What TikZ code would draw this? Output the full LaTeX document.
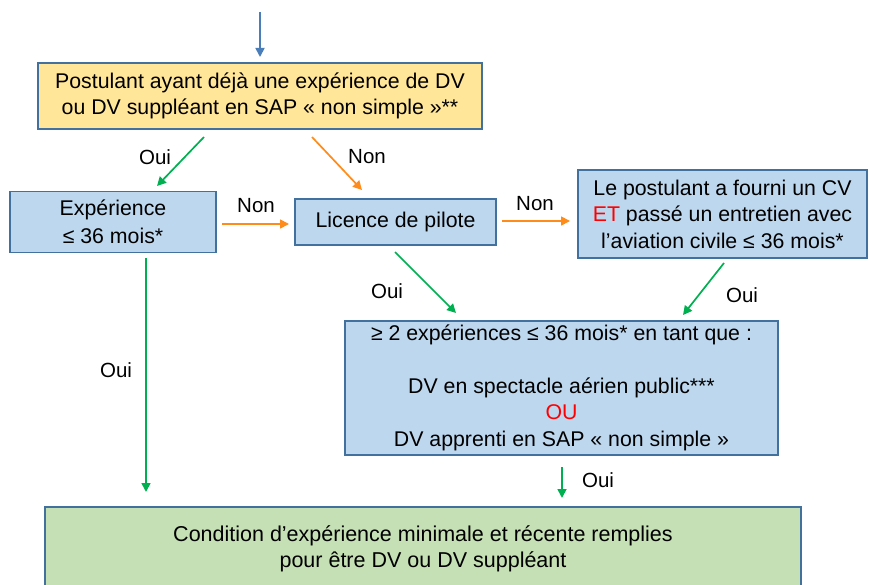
\documentclass[tikz,border=0pt]{standalone}
\usepackage{fontspec}
\setmainfont{Liberation Sans}
\usetikzlibrary{arrows.meta}
\definecolor{boxblue}{HTML}{BDD7EE}
\definecolor{boxyellow}{HTML}{FFE699}
\definecolor{boxgreen}{HTML}{C5E0B4}
\definecolor{edgeblue}{HTML}{41719C}
\definecolor{arrgreen}{HTML}{00B050}
\definecolor{arrorange}{HTML}{FF8C1A}
\definecolor{arrblue}{HTML}{4A7EBB}
\definecolor{redtxt}{HTML}{FF0000}
\begin{document}
\begin{tikzpicture}[x=1pt,y=-1pt,
  box/.style={draw=edgeblue, line width=1.6pt, inner sep=0pt, align=center,
    font=\fontsize{21.3}{26.5}\selectfont},
  lbl/.style={font=\fontsize{20.5}{22}\selectfont, inner sep=0pt},
  arr/.style={line width=1.7pt, -{Triangle[length=9pt,width=9pt]}},
  g/.style={arr, draw=arrgreen},
  o/.style={arr, draw=arrorange},
  b/.style={arr, draw=arrblue}]
\useasboundingbox (0,0) rectangle (869,585);
\node[box, fill=boxyellow, minimum width=444pt, minimum height=66pt] (top) at (260,96)
  {Postulant ayant déjà une expérience de DV\\ou DV suppléant en SAP « non simple »**};
\node[box, fill=boxblue, minimum width=206pt, minimum height=61pt,
  font=\fontsize{21.3}{28}\selectfont] (exp) at (113,222)
  {Expérience\\≤ 36 mois*};
\node[box, fill=boxblue, minimum width=201pt, minimum height=46pt] (lic) at (395.5,222)
  {Licence de pilote};
\node[box, fill=boxblue, minimum width=289pt, minimum height=88pt] (cv) at (722.5,214)
  {Le postulant a fourni un CV\\{\color{redtxt}ET} passé un entretien avec\\l’aviation civile ≤ 36 mois*};
\node[box, fill=boxblue, minimum width=433pt, minimum height=134pt] (two) at (561.5,388)
  {≥ 2 expériences ≤ 36 mois* en tant que :\\[26pt]DV en spectacle aérien public***\\{\color{redtxt}OU}\\DV apprenti en SAP « non simple »};
\node[box, fill=boxgreen, minimum width=756pt, minimum height=84pt,
  font=\fontsize{21.5}{26}\selectfont] (res) at (423,549)
  {Condition d’expérience minimale et récente remplies\\pour être DV ou DV suppléant};
% connector end points
\coordinate (s0) at (260,12); \coordinate (t0) at (260,57);
\coordinate (a1) at (204,137); \coordinate (b1) at (157,186);
\coordinate (a2) at (312,137); \coordinate (b2) at (362,190);
\coordinate (a3) at (222,224); \coordinate (b3) at (289,224);
\coordinate (a4) at (502,221); \coordinate (b4) at (570,221);
\coordinate (a5) at (395,252); \coordinate (b5) at (456,313);
\coordinate (a6) at (724,263); \coordinate (b6) at (683,315);
\coordinate (a7) at (146,258); \coordinate (b7) at (146,492);
\coordinate (a8) at (562,467); \coordinate (b8) at (562,498);
\draw[b] (s0) -- (t0);
\draw[g] (a1) -- (b1);
\draw[o] (a2) -- (b2);
\draw[o] (a3) -- (b3);
\draw[o] (a4) -- (b4);
\draw[g] (a5) -- (b5);
\draw[g] (a6) -- (b6);
\draw[g] (a7) -- (b7);
\draw[g] (a8) -- (b8);
\node[lbl] (l1) at (155,157) {Oui};
\node[lbl] (l2) at (367,157) {Non};
\node[lbl] (l3) at (256,206) {Non};
\node[lbl] (l4) at (535,204) {Non};
\node[lbl] (l5) at (387,291) {Oui};
\node[lbl] (l6) at (742,295) {Oui};
\node[lbl] (l7) at (116,370) {Oui};
\node[lbl] (l8) at (598,480) {Oui};
\end{tikzpicture}
\end{document}
